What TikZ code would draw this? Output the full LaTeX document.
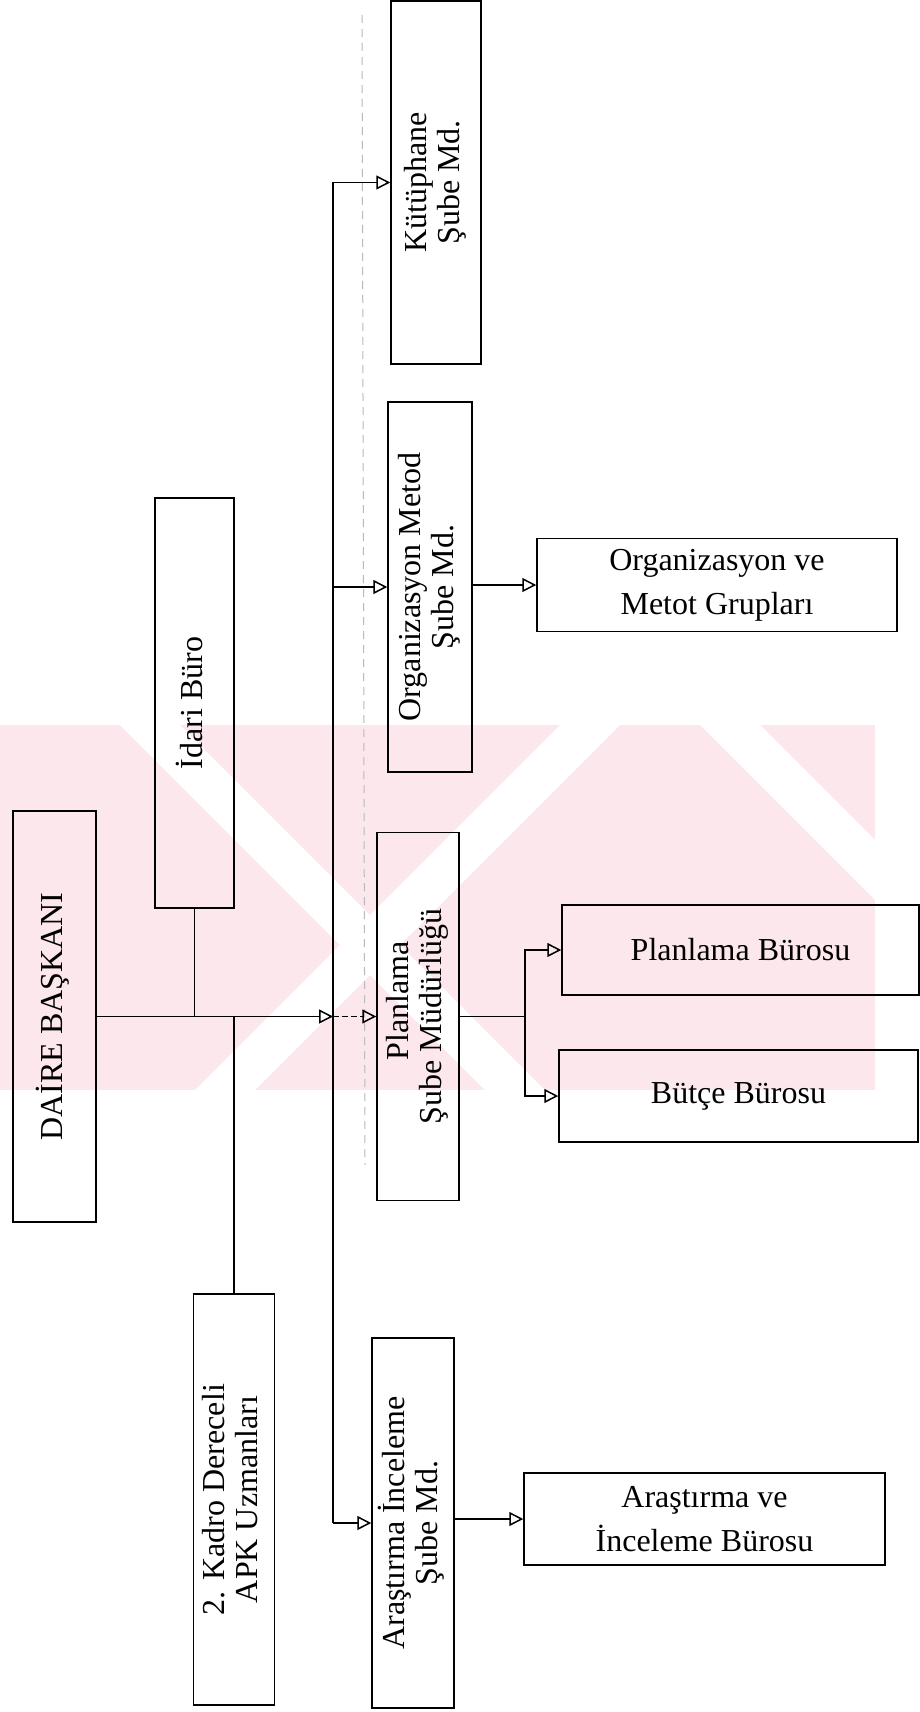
\documentclass[tikz,border=0pt]{standalone}
\usepackage{fontspec}
\setmainfont{Liberation Serif}
\usepackage{graphicx}
\usetikzlibrary{arrows.meta}
\definecolor{wmpink}{RGB}{252,232,236}
\newcommand\rotlbl[1]{\rotatebox{90}{\begin{tabular}{@{}c@{}}#1\end{tabular}}}
\begin{document}
\begin{tikzpicture}[x=0.5pt,y=-0.5pt,
  box/.style={draw, line width=0.75pt, inner sep=0pt, align=center, font=\fontsize{16}{16.5}\selectfont},
  hbox/.style={box, font=\fontsize{16}{22}\selectfont},
  conn/.style={line width=0.75pt},
  arr/.style={conn, -{Triangle[open, length=7pt, width=7pt]}},
  faint/.style={gray!55, line width=0.5pt, dash pattern=on 4pt off 3pt}]
\useasboundingbox (0,0) rectangle (920,1712);
% watermark (approximate)
\fill[wmpink] (0,725) rectangle (875,1090);
\fill[white] (120,725) -- (180,725) -- (545,1090) -- (485,1090) -- cycle;
\fill[white] (560,725) -- (620,725) -- (255,1090) -- (195,1090) -- cycle;
\fill[white] (700,725) -- (760,725) -- (875,840) -- (875,900) -- cycle;
% faint dashed trace
\draw[faint] (362,15) -- (365,1165);
% boxes
\node[box, minimum width=41.5pt, minimum height=205.5pt] (dai) at (54.5,1016.5) {\rotlbl{DAİRE BAŞKANI}};
\node[box, minimum width=39.5pt, minimum height=205pt] (idari) at (194.5,703) {\rotlbl{İdari Büro}};
\node[box, minimum width=40.5pt, minimum height=205.5pt] (kadro) at (234,1499.5) {\rotlbl{2. Kadro Dereceli\\APK Uzmanları}};
\node[box, minimum width=45pt, minimum height=181.5pt] (kut) at (436,182.5) {\rotlbl{Kütüphane\\Şube Md.}};
\node[box, minimum width=42pt, minimum height=185pt] (org) at (430,587) {\rotlbl{Organizasyon Metod\\Şube Md.}};
\node[box, minimum width=41pt, minimum height=184pt] (plan) at (418,1016.5) {\rotlbl{\hspace*{16pt}Planlama\\Şube Müdürlüğü}};
\node[box, minimum width=41pt, minimum height=185pt] (ara) at (413,1523) {\rotlbl{Araştırma İnceleme\\Şube Md.}};
\node[hbox, minimum width=180pt, minimum height=46.5pt] (orgmg) at (717,585) {Organizasyon ve\\Metot Grupları};
\node[hbox, minimum width=178.5pt, minimum height=45pt] (planb) at (740.5,950) {Planlama Bürosu};
\node[hbox, minimum width=179.5pt, minimum height=46pt] (butce) at (738.5,1096) {Bütçe Bürosu};
\node[hbox, minimum width=180.5pt, minimum height=46pt] (arab) at (704.5,1519) {Araştırma ve\\İnceleme Bürosu};
% bus
\coordinate (bt) at (333,182.5);
\coordinate (bb) at (333,1523);
\coordinate (bm) at (333,1016.5);
\coordinate (pj) at (525,1016.5);
\draw[conn] (bt) -- (bb);
\draw[arr] (bt) -- (kut.west);
\draw[arr] (bt |- org.west) -- (org.west);
\draw[arr] (dai.east) -- (bm);
\draw[arr, dash pattern=on 3pt off 1.5pt] (bm) -- (plan.west);
\draw[arr] (bb) -- (ara.west);
\draw[conn] (idari.south) -- (idari.south |- bm);
\draw[conn] (kadro.north) -- (kadro.north |- bm);
\draw[arr] (org.east |- orgmg.west) -- (orgmg.west);
\draw[conn] (plan.east) -- (pj);
\draw[arr] (pj) |- (planb.west);
\draw[arr] (pj) |- (butce.west);
\draw[arr] (ara.east |- arab.west) -- (arab.west);
\end{tikzpicture}
\end{document}
